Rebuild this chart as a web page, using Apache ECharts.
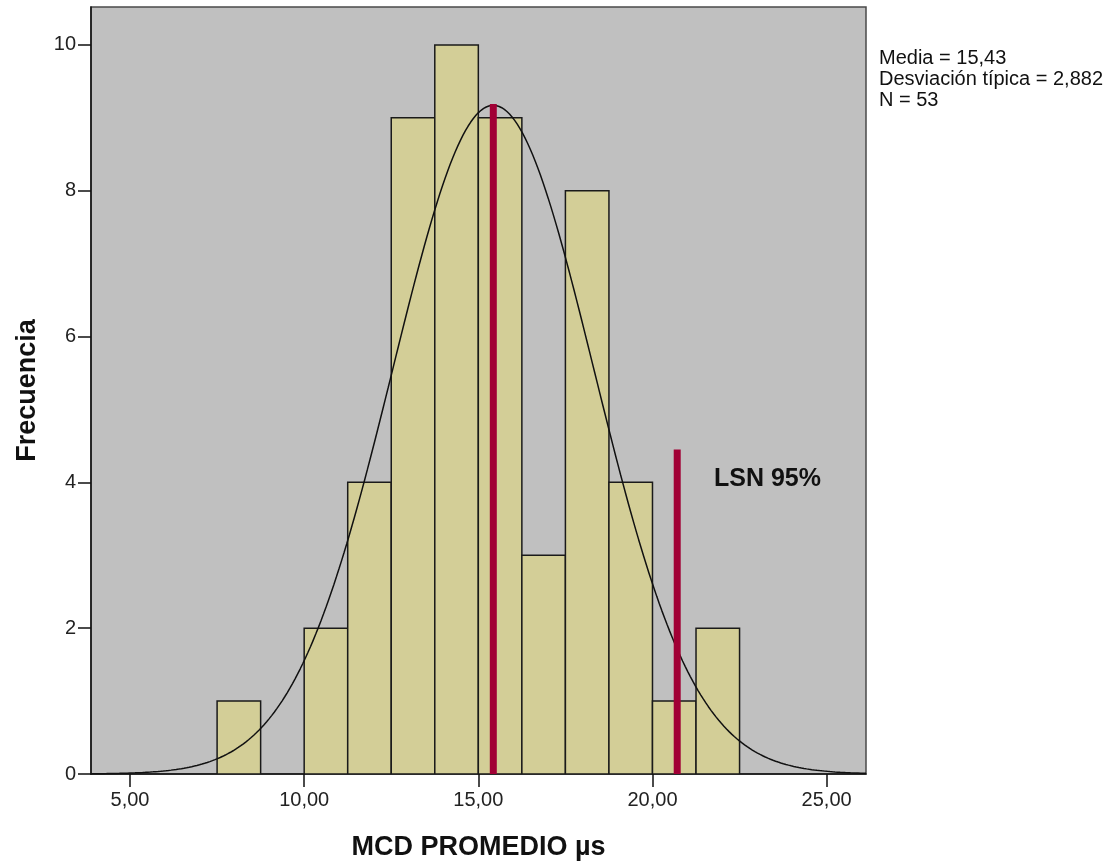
<!DOCTYPE html>
<html>
<head>
<meta charset="utf-8">
<script src="https://cdn.jsdelivr.net/npm/echarts@6/dist/echarts.min.js"></script>
<style>html,body{margin:0;padding:0;background:#fff;}#c{width:1112px;height:863px;}</style>
</head>
<body>
<div id="c"></div>
<script>
// Histogram bins (left edges) and frequencies
const binEdges = [7.5, 8.75, 10, 11.25, 12.5, 13.75, 15, 16.25, 17.5, 18.75, 20, 21.25, 22.5];
const counts   = [1, 0, 2, 4, 9, 10, 9, 3, 8, 4, 1, 2];
// Summary statistics shown in the chart
const statMean = 15.43;
const statSd = 2.882;
const statN = 53;
// Reference lines: [x, top]
const meanLine = [15.43, 9.19];
const lsnLine = [20.71, 4.45];
const xTicks = [5, 10, 15, 20, 25];
const yTicks = [0, 2, 4, 6, 8, 10];
const statLines = ['Media = 15,43', 'Desviación típica = 2,882', 'N = 53'];
const xMin = 3.88, xMax = 26.13, yMax = 10.52;

const binWidth = binEdges[1] - binEdges[0];
const bars = [];
for (let i = 0; i < counts.length; i++) {
  if (counts[i] > 0) bars.push([binEdges[i], binEdges[i + 1], counts[i]]);
}
// Fitted normal curve from the displayed statistics
const curve = [];
const steps = 300;
for (let i = 0; i <= steps; i++) {
  const x = xMin + (xMax - xMin) * i / steps;
  const z = (x - statMean) / statSd;
  const y = statN * binWidth / (statSd * Math.sqrt(2 * Math.PI)) * Math.exp(-0.5 * z * z);
  curve.push([x, y]);
}

const FONT = '"Liberation Sans", Arial, sans-serif';
const chart = echarts.init(document.getElementById('c'), null, {renderer: 'canvas'});
chart.setOption({
  animation: false,
  backgroundColor: '#ffffff',
  grid: {left: 91, top: 7, right: 246, bottom: 89, outerBoundsMode: 'none', containLabel: false,
    show: true, backgroundColor: '#c0c0c0', borderColor: '#4a4a4a', borderWidth: 1.5},
  xAxis: {
    type: 'value', min: xMin, max: xMax,
    splitLine: {show: false},
    axisLine: {show: true, onZero: false, lineStyle: {color: '#111', width: 1.5}},
    axisTick: {show: true, inside: false, length: 13, customValues: xTicks, lineStyle: {color: '#111', width: 1.5}},
    axisLabel: {customValues: xTicks, fontSize: 20, color: '#222', fontFamily: FONT, margin: 16,
      formatter: v => v.toFixed(2).replace('.', ',')},
    name: 'MCD PROMEDIO µs', nameLocation: 'middle', nameGap: 60,
    nameTextStyle: {fontSize: 27, fontWeight: 'bold', color: '#111', fontFamily: FONT}
  },
  yAxis: {
    type: 'value', min: 0, max: yMax,
    splitLine: {show: false},
    axisLine: {show: true, lineStyle: {color: '#111', width: 1.5}},
    axisTick: {show: true, inside: false, length: 13, customValues: yTicks, lineStyle: {color: '#111', width: 1.5}},
    axisLabel: {customValues: yTicks, fontSize: 20, color: '#222', fontFamily: FONT, margin: 15},
    name: 'Frecuencia', nameLocation: 'middle', nameGap: 50, nameRotate: 90,
    nameTextStyle: {fontSize: 27, fontWeight: 'bold', color: '#111', fontFamily: FONT}
  },
  series: [
    {
      type: 'custom', data: bars, encode: {x: [0, 1], y: 2}, clip: true, z: 2,
      renderItem: function (params, api) {
        const p0 = api.coord([api.value(0), api.value(2)]);
        const p1 = api.coord([api.value(1), 0]);
        return {type: 'rect', shape: {x: p0[0], y: p0[1], width: p1[0] - p0[0], height: p1[1] - p0[1]},
          style: {fill: '#d3ce97', stroke: '#1a1a1a', lineWidth: 1.5}};
      }
    },
    {type: 'line', data: curve, symbol: 'none', smooth: false, z: 3, lineStyle: {color: '#111', width: 1.5}},
    {type: 'line', data: [[meanLine[0], 0], [meanLine[0], meanLine[1]]], symbol: 'none', z: 4,
      lineStyle: {color: '#a10035', width: 7, cap: 'butt'}},
    {type: 'line', data: [[lsnLine[0], 0], [lsnLine[0], lsnLine[1]]], symbol: 'none', z: 4,
      lineStyle: {color: '#a10035', width: 7, cap: 'butt'}}
  ],
  graphic: [
    {type: 'text', left: 714, top: 467, style: {text: 'LSN 95%', fontSize: 25, fontWeight: 'bold', fill: '#111', fontFamily: FONT}},
    {type: 'text', left: 879, top: 48, style: {text: statLines.join('\n'), fontSize: 20, lineHeight: 21, fill: '#111', fontFamily: FONT}}
  ]
});
</script>
</body>
</html>
